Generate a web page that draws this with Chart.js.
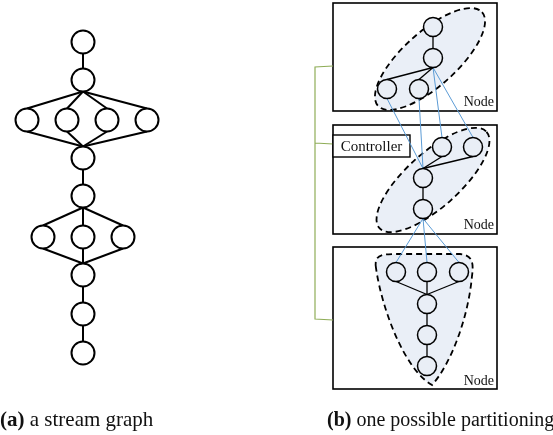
<!DOCTYPE html>
<html>
<head>
<meta charset="utf-8">
<script src="https://cdn.jsdelivr.net/npm/chart.js"></script>
<style>
  body { margin: 0; background: #fff; }
  canvas { display: block; }
</style>
</head>
<body>
<canvas id="graphs" width="553" height="435"></canvas>
<script>
// (a) stream graph : node centres
var aX = [83, 83, 27, 67, 107, 147, 83, 83, 43, 83, 123, 83, 83, 83];
var aY = [42, 80, 120, 120, 120, 120, 158, 196, 237, 237, 237, 275, 314, 353];
var aEdges = [[0, 1], [1, 2], [1, 3], [1, 4], [1, 5], [2, 6], [3, 6], [4, 6], [5, 6],
              [6, 7], [7, 8], [7, 9], [7, 10], [8, 11], [9, 11], [10, 11], [11, 12], [12, 13]];

// (b) partitioned graph : node centres
var bX = [433, 433, 387, 419, 442, 473, 423, 423, 396, 427, 459, 427, 427, 427];
var bY = [27, 58, 89, 89, 147, 147, 178, 209, 272, 272, 272, 304, 335, 366];
var bEdges = [[0, 1], [1, 2], [1, 3], [4, 6], [5, 6], [6, 7], [8, 11], [9, 11], [10, 11], [11, 12], [12, 13]];
var bCross = [[2, 6], [3, 6], [1, 4], [1, 5], [7, 8], [7, 9], [7, 10]];

var nodeLabels = ['Node', 'Node', 'Node'];
var captions = [['(a)', ' a stream graph'], ['(b)', ' one possible partitioning']];

var RA = 11.5, RB = 9.5;

function pts(xs, ys) {
    var out = [];
    for (var i = 0; i < xs.length; i++) out.push({x: xs[i], y: ys[i]});
    return out;
}

// one line dataset per edge, from the bottom of the parent to the top of the child
function edgeSets(xs, ys, edges, r, color, width) {
    var sets = [];
    for (var i = 0; i < edges.length; i++) {
        var p = edges[i][0], c = edges[i][1];
        sets.push({
            data: [{x: xs[p], y: ys[p] + r}, {x: xs[c], y: ys[c] - r}],
            showLine: true, pointRadius: 0, borderColor: color, borderWidth: width, order: 2
        });
    }
    return sets;
}

var datasets = [];
datasets.push({data: pts(aX, aY), pointRadius: RA, pointBackgroundColor: '#fff',
    pointBorderColor: '#000', pointBorderWidth: 2, order: 0});
datasets.push({data: pts(bX, bY), pointRadius: RB, pointBackgroundColor: '#e9eef6',
    pointBorderColor: '#000', pointBorderWidth: 1.5, order: 0});
datasets = datasets.concat(edgeSets(aX, aY, aEdges, RA, '#000', 2));
datasets = datasets.concat(edgeSets(bX, bY, bEdges, RB, '#000', 1.3));
datasets = datasets.concat(edgeSets(bX, bY, bCross, RB, '#5b9bd5', 1));

var decor = {
    id: 'decor',
    beforeDatasetsDraw: function (chart) {
        var c = chart.ctx, sx = chart.scales.x, sy = chart.scales.y;
        function X(v) { return sx.getPixelForValue(v); }
        function Y(v) { return sy.getPixelForValue(v); }
        c.save();
        // node boxes
        var boxes = [[333, 3, 497, 111], [333, 125, 497, 234], [333, 247, 497, 389]];
        c.strokeStyle = '#000';
        c.lineWidth = 1.6;
        boxes.forEach(function (b) {
            c.strokeRect(X(b[0]), Y(b[1]), X(b[2]) - X(b[0]), Y(b[3]) - Y(b[1]));
        });
        // green bracket
        c.strokeStyle = '#8fad58';
        c.lineWidth = 1.2;
        c.beginPath();
        c.moveTo(X(333), Y(66)); c.lineTo(X(315), Y(67));
        c.lineTo(X(315), Y(319)); c.lineTo(X(333), Y(320));
        c.moveTo(X(315), Y(143)); c.lineTo(X(333), Y(144));
        c.stroke();
        // controller box
        c.fillStyle = '#fff';
        c.fillRect(X(333), Y(135), X(410) - X(333), Y(157) - Y(135));
        c.strokeStyle = '#000';
        c.lineWidth = 1.4;
        c.strokeRect(X(333), Y(135), X(410) - X(333), Y(157) - Y(135));
        c.fillStyle = '#111';
        c.font = '15px "Liberation Serif"';
        c.textAlign = 'center';
        c.textBaseline = 'alphabetic';
        c.fillText('Controller', X(371.5), Y(151));
        // partitions (dashed)
        c.fillStyle = '#eaeff7';
        c.strokeStyle = '#000';
        c.lineWidth = 1.8;
        c.setLineDash([6, 4]);
        c.beginPath();
        c.ellipse(X(430), Y(59), 70, 27, -42 * Math.PI / 180, 0, 2 * Math.PI);
        c.fill(); c.stroke();
        c.beginPath();
        c.ellipse(X(433), Y(180), 72, 27, -42 * Math.PI / 180, 0, 2 * Math.PI);
        c.fill(); c.stroke();
        c.beginPath();
        c.moveTo(X(376), Y(268));
        c.bezierCurveTo(X(374), Y(256), X(380), Y(254), X(395), Y(254));
        c.lineTo(X(460), Y(254));
        c.bezierCurveTo(X(472), Y(255), X(474), Y(262), X(472), Y(276));
        c.bezierCurveTo(X(468), Y(320), X(450), Y(365), X(432), Y(385));
        c.bezierCurveTo(X(405), Y(370), X(382), Y(310), X(376), Y(268));
        c.closePath();
        c.fill(); c.stroke();
        c.setLineDash([]);
        c.restore();
    },
    afterDraw: function (chart) {
        var c = chart.ctx, sx = chart.scales.x, sy = chart.scales.y;
        c.save();
        c.fillStyle = '#111';
        c.textBaseline = 'alphabetic';
        c.textAlign = 'right';
        c.font = '14px "Liberation Serif"';
        var nodeBase = [106, 229, 385];
        nodeLabels.forEach(function (t, i) {
            c.fillText(t, sx.getPixelForValue(494), sy.getPixelForValue(nodeBase[i]));
        });
        c.textAlign = 'left';
        var capX = [0, 327];
        var capSize = [21, 20];
        captions.forEach(function (cap, i) {
            var x = sx.getPixelForValue(capX[i]), y = sy.getPixelForValue(426);
            c.font = 'bold ' + capSize[i] + 'px "Liberation Serif"';
            c.fillText(cap[0], x, y);
            x += c.measureText(cap[0]).width;
            c.font = capSize[i] + 'px "Liberation Serif"';
            c.fillText(cap[1], x, y);
        });
        c.restore();
    }
};

new Chart(document.getElementById('graphs'), {
    type: 'scatter',
    data: {datasets: datasets},
    options: {
        responsive: false,
        animation: false,
        layout: {padding: 0, autoPadding: false},
        plugins: {legend: {display: false}, tooltip: {enabled: false}},
        scales: {
            x: {type: 'linear', min: 0, max: 553, display: false},
            y: {type: 'linear', min: 0, max: 435, reverse: true, display: false}
        }
    },
    plugins: [decor]
});
</script>
</body>
</html>
